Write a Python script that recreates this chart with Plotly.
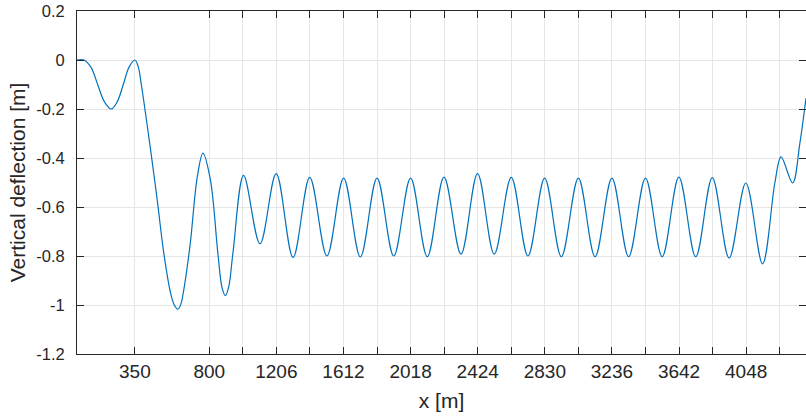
import plotly.graph_objects as go

# Vertical deflection along the span (key points of the deflection curve)
x_m = [0, 42, 85, 125, 166, 207, 243, 280, 315, 350, 370, 389, 445, 485, 525,
       566, 589, 611, 628, 643, 685, 727, 762, 807, 852, 878, 898, 918, 943,
       1008, 1107, 1205, 1307, 1408, 1512, 1613, 1714, 1815, 1916, 2018, 2119,
       2220, 2323, 2423, 2524, 2627, 2728, 2829, 2930, 3033, 3134, 3236, 3337,
       3439, 3540, 3641, 3743, 3843, 3945, 4046, 4147, 4222, 4259, 4329, 4373,
       4410]
deflection_m = [0.0, 0.0, -0.03, -0.10, -0.171, -0.20, -0.171, -0.10, -0.029,
                0.0, -0.026, -0.10, -0.366, -0.57, -0.788, -0.951, -1.001,
                -1.017, -0.997, -0.95, -0.75, -0.48, -0.38, -0.489, -0.788,
                -0.931, -0.962, -0.925, -0.79, -0.471, -0.75, -0.464, -0.806,
                -0.479, -0.80, -0.482, -0.804, -0.482, -0.80, -0.482, -0.803,
                -0.478, -0.792, -0.464, -0.792, -0.479, -0.80, -0.482, -0.803,
                -0.482, -0.803, -0.482, -0.803, -0.482, -0.803, -0.478, -0.803,
                -0.48, -0.808, -0.502, -0.832, -0.50, -0.395, -0.502, -0.339,
                -0.155]

# Axis ticks
x_tick_vals = [350, 800, 1003, 1206, 1409, 1612, 1815, 2018, 2221, 2424, 2627,
               2830, 3033, 3236, 3439, 3642, 3845, 4048, 4251]
x_tick_text = ["350", "800", "", "1206", "", "1612", "", "2018", "", "2424", "",
               "2830", "", "3236", "", "3642", "", "4048", ""]
y_tick_vals = [-1.2, -1.0, -0.8, -0.6, -0.4, -0.2, 0.0, 0.2]
y_tick_text = ["-1.2", "-1", "-0.8", "-0.6", "-0.4", "-0.2", "0", "0.2"]

axis_color = "#262626"
grid_color = "#E6E6E6"
font_family = "Liberation Sans, Arial, sans-serif"

fig = go.Figure()
fig.add_trace(go.Scatter(
    x=x_m, y=deflection_m, mode="lines",
    line=dict(color="#0072BD", width=1.2, shape="spline", smoothing=1.0),
    showlegend=False, hoverinfo="x+y",
))

fig.update_layout(
    width=806, height=419,
    margin=dict(l=77, r=0, t=11, b=65),
    paper_bgcolor="white", plot_bgcolor="white",
    font=dict(family=font_family, color=axis_color),
)

fig.update_xaxes(
    range=[0, 4410], tickmode="array", tickvals=x_tick_vals, ticktext=x_tick_text,
    ticks="inside", ticklen=7, tickcolor=axis_color, tickwidth=1,
    showline=True, linecolor=axis_color, linewidth=1, mirror="ticks",
    showgrid=True, gridcolor=grid_color, gridwidth=1, zeroline=False,
    tickfont=dict(size=19, color=axis_color, family=font_family),
    title=dict(text="x [m]", font=dict(size=21, color=axis_color, family=font_family),
               standoff=12),
)
fig.update_yaxes(
    range=[-1.2, 0.2], tickmode="array", tickvals=y_tick_vals, ticktext=y_tick_text,
    ticks="inside", ticklen=7, tickcolor=axis_color, tickwidth=1,
    showline=True, linecolor=axis_color, linewidth=1, mirror="ticks",
    showgrid=True, gridcolor=grid_color, gridwidth=1, zeroline=False,
    tickfont=dict(size=16.5, color=axis_color, family=font_family),
    ticklabelstandoff=8,
    title=dict(text="Vertical deflection [m]",
               font=dict(size=21, color=axis_color, family=font_family), standoff=4),
)

fig.write_html("out.html")
